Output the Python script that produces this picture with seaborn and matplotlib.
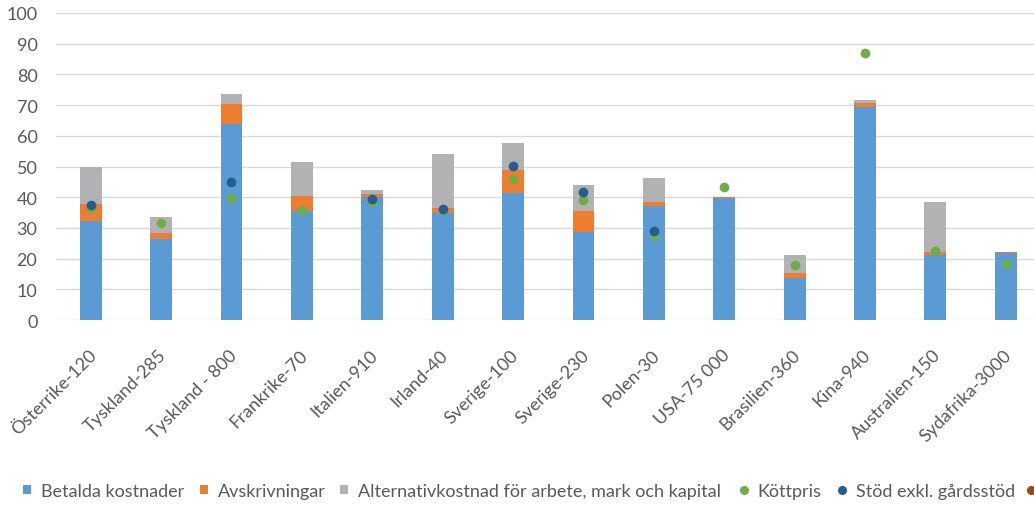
import numpy as np
import pandas as pd
import matplotlib
matplotlib.use("Agg")
import matplotlib.pyplot as plt
import matplotlib.transforms as mtransforms
import seaborn as sns
from matplotlib.lines import Line2D
from matplotlib.patches import Patch

categories = ["Österrike-120", "Tyskland-285", "Tyskland - 800", "Frankrike-70", "Italien-910",
              "Irland-40", "Sverige-100", "Sverige-230", "Polen-30", "USA-75 000",
              "Brasilien-360", "Kina-940", "Australien-150", "Sydafrika-3000"]
betalda = [32.4, 26.5, 63.9, 35.4, 40.1, 35.0, 41.5, 28.7, 37.0, 39.7, 13.8, 69.5, 21.2, 21.7]
avskrivningar = [5.4, 2.0, 6.4, 5.0, 0.9, 1.6, 7.2, 6.8, 1.3, 0.3, 1.5, 1.3, 1.0, 0.4]
alternativ = [12.2, 5.1, 3.2, 11.1, 1.3, 17.5, 8.9, 8.6, 8.1, 0.0, 5.9, 0.7, 16.3, 0.0]
kottpris = [36.6, 31.6, 39.7, 35.9, 38.5, 35.7, 45.8, 39.2, 27.4, 43.4, 18.0, 87.1, 22.5, 18.4]
stod = [37.4, np.nan, 44.8, np.nan, 39.3, 36.1, 50.1, 41.7, 28.9, np.nan, np.nan, np.nan, np.nan, np.nan]
yticks = [0, 10, 20, 30, 40, 50, 60, 70, 80, 90, 100]
legend_labels = ["Betalda kostnader", "Avskrivningar",
                 "Alternativkostnad för arbete, mark och kapital",
                 "Köttpris", "Stöd exkl. gårdsstöd", " "]

c_blue = "#5B9BD5"
c_orange = "#ED7D31"
c_gray = "#B1B2B4"
c_green = "#70AD47"
c_dblue = "#255E91"
c_brown = "#9E480E"
txt = "#595959"

sns.set_theme(style="white")
plt.rcParams["font.family"] = ["Lato", "DejaVu Sans"]

df = pd.DataFrame({"cat": categories, "b": betalda, "a": avskrivningar, "g": alternativ,
                   "k": kottpris, "s": stod})
df["b_a"] = df["b"] + df["a"]

fig = plt.figure(figsize=(10.34, 5.06), dpi=100)
ax = fig.add_axes([55.5 / 1034, 185 / 506, (1041 - 55.5) / 1034, 307 / 506])

w = 0.31
sns.barplot(data=df, x="cat", y="b", order=categories, color=c_blue, width=w,
            saturation=1, ax=ax, errorbar=None)
sns.barplot(data=df, x="cat", y="a", order=categories, color=c_orange, width=w,
            saturation=1, ax=ax, errorbar=None, bottom=df["b"].values)
sns.barplot(data=df, x="cat", y="g", order=categories, color=c_gray, width=w,
            saturation=1, ax=ax, errorbar=None, bottom=df["b_a"].values)
for p in ax.patches:
    p.set_linewidth(0)

sns.stripplot(data=df, x="cat", y="k", order=categories, color=c_green, jitter=False,
              size=7, linewidth=0, ax=ax, zorder=5)
sns.stripplot(data=df, x="cat", y="s", order=categories, color=c_dblue, jitter=False,
              size=7, linewidth=0, ax=ax, zorder=6)

ax.set_ylim(0, 100)
ax.set_xlim(-0.5, len(categories) - 0.5)
ax.set_yticks(yticks)
ax.set_yticklabels([str(v) for v in yticks])
ax.yaxis.grid(True, color="#D9D9D9", linewidth=1)
ax.set_axisbelow(True)
for sp in ax.spines.values():
    sp.set_visible(False)
ax.set_xlabel("")
ax.set_ylabel("")
ax.tick_params(axis="y", length=0, labelsize=13, labelcolor=txt, pad=13)
ax.tick_params(axis="x", length=0, labelsize=13, labelcolor=txt, pad=23)
ax.set_xticks(range(len(categories)))
ax.set_xticklabels(categories, rotation=45, ha="right", va="center", rotation_mode="anchor")
shift = mtransforms.ScaledTranslation(3 / 100, 0, fig.dpi_scale_trans)
for lab in ax.get_xticklabels():
    lab.set_transform(lab.get_transform() + shift)

handles = [
    Patch(facecolor=c_blue, linewidth=0),
    Patch(facecolor=c_orange, linewidth=0),
    Patch(facecolor=c_gray, linewidth=0),
    Line2D([], [], marker="o", linestyle="", color=c_green, markersize=5.5),
    Line2D([], [], marker="o", linestyle="", color=c_dblue, markersize=5.5),
    Line2D([], [], marker="o", linestyle="", color=c_brown, markersize=5.5),
]
# left edge (px) of each legend marker, as in the reference
legend_x = [23, 200, 340, 740, 838, 1027]
for h, lab, x0 in zip(handles, legend_labels, legend_x):
    fig.legend(handles=[h], labels=[lab], loc="center left",
               bbox_to_anchor=(x0 / 1034, 1 - 492 / 506), frameon=False, fontsize=13,
               handlelength=0.42, handleheight=0.42, handletextpad=0.55, labelcolor=txt,
               borderpad=0, borderaxespad=0)

fig.savefig("out.png", dpi=100)
